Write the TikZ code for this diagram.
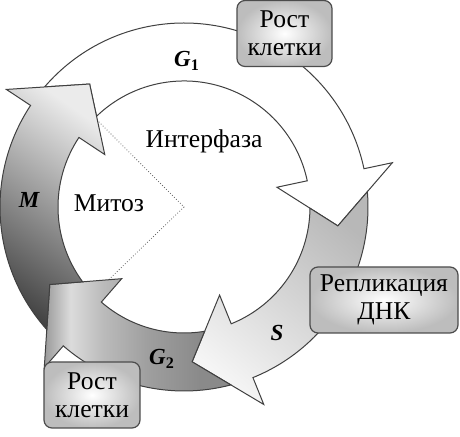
\documentclass[tikz,border=0pt]{standalone}
\usepackage{fontspec}
\setmainfont{Liberation Serif}

% light spot at the G2 head, darker towards the S head
\pgfdeclarehorizontalshading{gtwoshade}{100bp}{color(0bp)=(black!40); color(25bp)=(black!40); color(32bp)=(black!14); color(41bp)=(black!27); color(53bp)=(black!38); color(67bp)=(black!46); color(100bp)=(black!46)}

\begin{document}
\begin{tikzpicture}[
  x=0.5pt, y=0.5pt,
  every node/.style={font=\rmfamily\fontsize{12.8}{14}\selectfont},
  ring edge/.style={draw=black!75, line width=0.5pt},
  phaseG1/.style={ring edge, fill=white},
  phaseS/.style={ring edge, top color=black!28, bottom color=black!4, shading angle=-40},
  phaseGtwo/.style={ring edge, shade, shading=gtwoshade},
  phaseM/.style={ring edge, top color=black!8, bottom color=black!74, shading angle=-35},
  phase label/.style={font=\rmfamily\fontsize{11.5}{13}\selectfont\bfseries\itshape},
  info box/.style={draw=black!70, line width=0.6pt, rounded corners=4pt,
    inner color=white, outer color=black!26, align=center,
    minimum height=33pt, inner sep=2pt},
  wedge line/.style={densely dotted, black!60, line width=0.4pt}
  ]
  \useasboundingbox (-184,-230) rectangle (276,207);

  \coordinate (hub) at (0,0);
  \draw[wedge line] (135:126) -- (hub) -- (-136:126);

  % ring pieces: tail angle / head base angle / style
  \foreach \p/\b/\sty in {146.5/12/phaseG1, 12/-68/phaseS, -68/-131/phaseGtwo, -131/-213.5/phaseM}
    \path[\sty] ({\p-7.24}:184) arc[start angle={\p-7.24}, end angle=\b, radius=184]
      -- (\b:213) -- ({\b-19}:155) -- (\b:95) -- (\b:126)
      arc[start angle=\b, end angle={\p-12.56}, radius=126]
      -- ({\p-19}:155) -- cycle;

  \node (interphase) at (20,66) {Интерфаза};
  \node (mitosis) at (-75,4) {Митоз};
  \node[phase label] (mlabel) at (-155,7) {M};
  \node[phase label] (slabel) at (93,-126) {S};
  \node[phase label] (g1label) at (3,146) {G\textsubscript{\upshape 1}};
  \node[phase label] (g2label) at (-22,-152) {G\textsubscript{\upshape 2}};

  \node[info box, minimum width=47.5pt] (growthtop) at (100.5,173.5) {Рост\\клетки};
  \node[info box, minimum width=74pt] (replication) at (200,-93) {Репликация\\ДНК};
  \node[info box, minimum width=48pt] (growthbottom) at (-92,-188) {Рост\\клетки};
\end{tikzpicture}
\end{document}
